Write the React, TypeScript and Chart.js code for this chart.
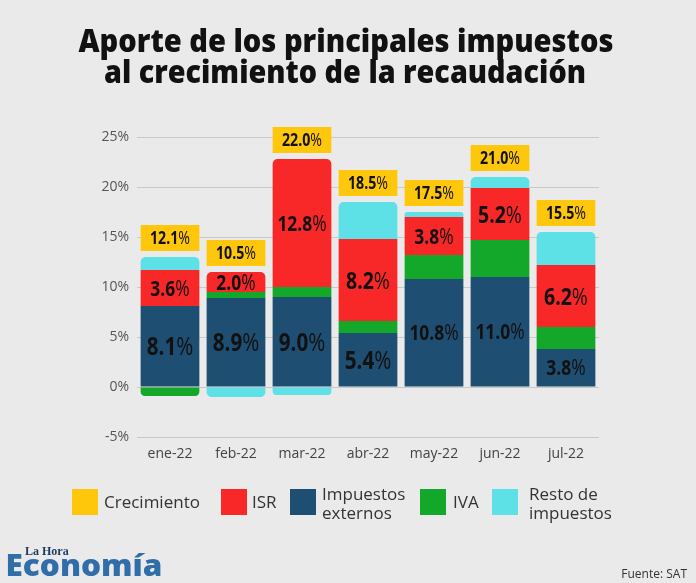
import React, { useEffect, useLayoutEffect, useRef, useState } from "react";
import { Chart, registerables } from "chart.js";

Chart.register(...registerables);

// ---- Data ----
const categories = ["ene-22", "feb-22", "mar-22", "abr-22", "may-22", "jun-22", "jul-22"];
const impuestosExternos = [8.1, 8.9, 9.0, 5.4, 10.8, 11.0, 3.8];
const iva = [-0.9, 0.6, 1.0, 1.2, 2.4, 3.7, 2.2];
const isr = [3.6, 2.0, 12.8, 8.2, 3.8, 5.2, 6.2];
const restoImpuestos = [1.3, -1.0, -0.8, 3.7, 0.5, 1.1, 3.3];
const crecimiento = [12.1, 10.5, 22.0, 18.5, 17.5, 21.0, 15.5];
const yMin = -5;
const yMax = 25;
const yStep = 5;

const titleLines = ["Aporte de los principales impuestos", "al crecimiento de la recaudación"];
const legendItems = [
  { label: ["Crecimiento"], color: "#fec70c" },
  { label: ["ISR"], color: "#f82828" },
  { label: ["Impuestos", "externos"], color: "#1f4e73" },
  { label: ["IVA"], color: "#14a82a" },
  { label: ["Resto de", "impuestos"], color: "#5de0e6" },
];

const BLUE = "#1f4e73";
const GREEN = "#14a82a";
const RED = "#f82828";
const CYAN = "#5de0e6";
const YELLOW = "#fec70c";

const stackData = [impuestosExternos, iva, isr, restoImpuestos];

function outerRadius(di: number, i: number): number {
  const v = stackData[di][i];
  if (v > 0) {
    for (let k = di + 1; k < stackData.length; k++) if (stackData[k][i] > 0) return 0;
    return 5;
  }
  if (v < 0) {
    for (let k = di + 1; k < stackData.length; k++) if (stackData[k][i] < 0) return 0;
    return 5;
  }
  return 0;
}

const SANS = '"Open Sans", sans-serif';
const SQUEEZE = 0.81;

function drawPct(ctx: CanvasRenderingContext2D, num: string, x: number, y: number, size: number) {
  ctx.save();
  ctx.translate(x, y);
  ctx.scale(SQUEEZE, 1);
  const bold = `bold ${size}px ${SANS}`;
  const reg = `${size}px ${SANS}`;
  ctx.font = bold;
  const w1 = ctx.measureText(num).width;
  ctx.font = reg;
  const w2 = ctx.measureText("%").width;
  const sx = -(w1 + w2) / 2;
  const base = 0.357 * size;
  ctx.textBaseline = "alphabetic";
  ctx.textAlign = "left";
  ctx.fillStyle = "#111";
  ctx.font = bold;
  ctx.fillText(num, sx, base);
  ctx.font = reg;
  ctx.fillText("%", sx + w1, base);
  ctx.restore();
}

const labelPlugin = {
  id: "segLabels",
  afterDatasetsDraw(chart: any) {
    const ctx = chart.ctx as CanvasRenderingContext2D;
    const yScale = chart.scales.y;
    [0, 2].forEach((di) => {
      const meta = chart.getDatasetMeta(di);
      meta.data.forEach((bar: any, i: number) => {
        const v = chart.data.datasets[di].data[i] as number;
        const h = Math.abs(bar.base - bar.y);
        const txt = v.toFixed(1);
        const size = txt.length >= 4 || h < 42 ? 21.5 : di === 0 ? 25.5 : 24;
        drawPct(ctx, txt, bar.x, (bar.y + bar.base) / 2, size);
      });
    });
    const meta0 = chart.getDatasetMeta(0);
    crecimiento.forEach((c, i) => {
      const bar = meta0.data[i] as any;
      const w = bar.width;
      let top = 0;
      stackData.forEach((arr) => {
        if (arr[i] > 0) top += arr[i];
      });
      const yTop = yScale.getPixelForValue(top);
      const boxH = 26;
      const by = yTop - 6 - boxH;
      ctx.save();
      ctx.fillStyle = YELLOW;
      ctx.fillRect(bar.x - w / 2, by, w, boxH);
      ctx.restore();
      drawPct(ctx, c.toFixed(1), bar.x, by + boxH / 2, 17.5);
    });
  },
};

function FitText(props: {
  text: string;
  cx: number;
  top: number;
  width: number;
  style: React.CSSProperties;
}) {
  const ref = useRef<HTMLSpanElement | null>(null);
  const [s, setS] = useState(1);
  useLayoutEffect(() => {
    const el = ref.current;
    if (el) {
      const w = el.getBoundingClientRect().width / s;
      if (w > 0) setS(props.width / w);
    }
    // eslint-disable-next-line
  }, []);
  return (
    <span
      ref={ref}
      style={{
        position: "absolute",
        left: props.cx,
        top: props.top,
        whiteSpace: "nowrap",
        display: "inline-block",
        transformOrigin: "50% 50%",
        transform: `translateX(-50%) scaleX(${s})`,
        ...props.style,
      }}
    >
      {props.text}
    </span>
  );
}

export default function App() {
  const ref = useRef<HTMLCanvasElement | null>(null);

  useEffect(() => {
    document.body.style.margin = "0";
    document.body.style.background = "#eaeaea";
    const canvas = ref.current!;
    const mk = (label: string, data: number[], color: string, di: number) => ({
      label,
      data,
      backgroundColor: color,
      borderWidth: 0,
      borderRadius: (c: any) => outerRadius(di, c.dataIndex),
      borderSkipped: "start" as const,
      categoryPercentage: 1,
      barPercentage: 0.89,
    });
    const chart = new Chart(canvas, {
      type: "bar",
      data: {
        labels: categories,
        datasets: [
          mk("Impuestos externos", impuestosExternos, BLUE, 0),
          mk("IVA", iva, GREEN, 1),
          mk("ISR", isr, RED, 2),
          mk("Resto de impuestos", restoImpuestos, CYAN, 3),
        ],
      },
      options: {
        responsive: false,
        animation: false,
        devicePixelRatio: 1,
        layout: { padding: { left: 0, right: 97, top: 137, bottom: 116 } },
        plugins: {
          legend: { display: false },
          tooltip: { enabled: false },
          title: { display: false },
        },
        scales: {
          x: {
            stacked: true,
            grid: { display: false, drawTicks: false },
            border: { display: false },
            ticks: {
              color: "#444",
              font: { family: SANS, size: 14 },
              padding: 9,
            },
            afterFit: (s: any) => {
              s.height = 30;
            },
          },
          y: {
            stacked: true,
            min: yMin,
            max: yMax,
            grid: { color: "#c9c9c9", lineWidth: 1, drawTicks: false },
            border: { display: false },
            ticks: {
              stepSize: yStep,
              color: "#555",
              padding: 8,
              font: { family: SANS, size: 14 },
              callback: (v: any) => `${v}%`,
            },
            afterFit: (s: any) => {
              s.width = 137;
            },
          },
        },
      },
      plugins: [labelPlugin],
    });
    return () => chart.destroy();
  }, []);

  const legendPos = [
    { box: 72, text: 104 },
    { box: 221, text: 252 },
    { box: 290, text: 322 },
    { box: 420, text: 453 },
    { box: 492, text: 529 },
  ];

  const titleStyle: React.CSSProperties = {
    fontFamily: SANS,
    fontWeight: 800,
    fontSize: 31,
    lineHeight: "31px",
    color: "#111",
  };

  return (
    <div
      style={{
        position: "absolute",
        left: 0,
        top: 0,
        width: 696,
        height: 583,
        background: "#eaeaea",
        overflow: "hidden",
      }}
    >
      <canvas ref={ref} width={696} height={583} style={{ position: "absolute", left: 0, top: 0, width: 696, height: 583 }} />
      <FitText text={titleLines[0]} cx={345.5} top={25} width={535} style={titleStyle} />
      <FitText text={titleLines[1]} cx={345} top={55.5} width={482} style={titleStyle} />
      {legendItems.map((it, i) => (
        <React.Fragment key={i}>
          <div
            style={{
              position: "absolute",
              left: legendPos[i].box,
              top: 489,
              width: 26,
              height: 26,
              background: it.color,
            }}
          />
          <div
            style={{
              position: "absolute",
              left: legendPos[i].text,
              top: it.label.length === 1 ? 493 : 484,
              fontFamily: SANS,
              fontSize: 17,
              lineHeight: it.label.length === 1 ? "18px" : "19px",
              color: "#333",
              whiteSpace: "nowrap",
            }}
          >
            {it.label.map((l, j) => (
              <div key={j}>{l}</div>
            ))}
          </div>
        </React.Fragment>
      ))}
      <div
        style={{
          position: "absolute",
          left: 25,
          top: 545,
          fontFamily: '"Liberation Serif", serif',
          fontWeight: "bold",
          fontSize: 12,
          lineHeight: "12px",
          color: "#1c3a5e",
        }}
      >
        La Hora
      </div>
      <FitText
        text="Economía"
        cx={83.5}
        top={550}
        width={157}
        style={{
          fontFamily: SANS,
          fontWeight: 800,
          fontSize: 30,
          lineHeight: "30px",
          color: "#2f6ea8",
        }}
      />
      <div
        style={{
          position: "absolute",
          right: 9,
          top: 566,
          fontFamily: SANS,
          fontSize: 12,
          lineHeight: "16px",
          color: "#333",
        }}
      >
        Fuente: SAT
      </div>
    </div>
  );
}
